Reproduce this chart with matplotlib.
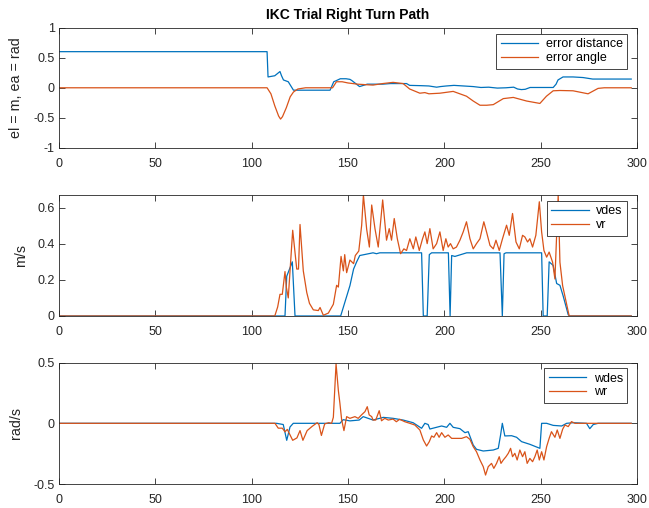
import numpy as np
import matplotlib.pyplot as plt

plt.rcParams['font.family'] = ['Liberation Sans', 'DejaVu Sans']

# error distance / error angle
ed_t = [0, 108, 108.5, 112, 114.7, 115.5, 116.5, 119, 121.7, 140.7, 142.6, 144, 146, 149, 151, 152, 154, 156,
        160, 163, 168, 172, 176, 180.4, 182, 188, 192, 196, 198, 201, 205, 210, 215, 219, 223, 227.5, 232, 236,
        238, 240, 242, 244.5, 250, 256.5, 258, 259, 261.6, 266.8, 272, 277, 297]
ed_v = [0.6, 0.6, 0.18, 0.2, 0.27, 0.2, 0.13, 0.1, -0.04, -0.04, 0.10, 0.12, 0.15, 0.15, 0.14, 0.12, 0.07, 0.02,
        0.06, 0.06, 0.06, 0.07, 0.07, 0.07, 0.04, 0.035, 0.03, 0.01, 0.02, 0.03, 0.04, 0.03, 0.02, 0.005, 0.01,
        -0.005, 0.0, 0.01, -0.02, -0.03, -0.025, 0.005, 0.005, 0.005, 0.06, 0.13, 0.18, 0.18, 0.17, 0.145, 0.145]
ea_t = [0, 108, 110, 112, 114, 115, 116, 118, 120, 121.7, 124, 128, 142, 144, 147, 150, 155, 160, 163, 168,
        173.4, 178.6, 182, 187.3, 189.9, 192, 197.7, 204.6, 211.5, 215, 218.5, 222, 225.4, 230.6, 235.8, 242.7,
        249.6, 253, 256.5, 260, 266.8, 274.6, 279.8, 283, 297]
ea_v = [0, 0, -0.1, -0.3, -0.47, -0.52, -0.48, -0.33, -0.15, -0.07, -0.02, 0, 0, 0.10, 0.1, 0.08, 0.06, 0.05,
        0.045, 0.07, 0.09, 0.07, -0.02, -0.09, -0.08, -0.1, -0.09, -0.06, -0.14, -0.22, -0.29, -0.29, -0.28,
        -0.18, -0.16, -0.22, -0.26, -0.14, -0.05, -0.045, -0.05, -0.10, -0.01, 0, 0]

# linear velocity
vdes_t = [0, 117.3, 118.2, 121.1, 122.5, 146.2, 151, 152.9, 154.5, 156.1, 163, 164.8, 166.5, 188.2, 189.1,
          191.1, 192.2, 193.4, 202.1, 203, 203.8, 205.5, 211.6, 228.9, 230.1, 231, 232, 250.5, 251.3, 253.4,
          254.4, 256.5, 258.3, 260, 261.7, 264.3, 265, 297]
vdes_v = [0, 0, 0.22, 0.30, 0, 0, 0.168, 0.26, 0.30, 0.335, 0.35, 0.345, 0.35, 0.35, 0, 0, 0.34, 0.35, 0.35,
          0, 0.335, 0.33, 0.35, 0.35, 0, 0.345, 0.35, 0.35, 0, 0, 0.30, 0.28, 0.18, 0.17, 0.11, 0.007, 0, 0]
vr_t = [0, 112, 113.5, 114.7, 115.9, 117.3, 118, 119, 121.3, 123.4, 124.3, 125.1, 126.8, 128.6, 130, 132,
        134.6, 135.5, 137.2, 139.8, 142.4, 144.1, 145, 146.4, 147.6, 148.3, 149.3, 151, 152.9, 153.8, 155.6,
        157.1, 158, 159.7, 161.1, 162.3, 164, 165.7, 168, 170, 171.4, 172.6, 174, 175.6, 177.3, 179, 180.4,
        182.1, 183.9, 185.2, 187, 188.7, 189.9, 191.1, 192.5, 194.2, 196, 197.7, 199.4, 200.8, 202, 203.2,
        204.6, 206.3, 208.1, 209.8, 211.5, 213.3, 215, 216.7, 218.5, 220.5, 221.9, 223.7, 225.4, 226.8, 228.5,
        230.2, 232.3, 233.7, 235.4, 237.2, 238.9, 240.6, 241.8, 243.2, 244.4, 245.8, 247.5, 249.3, 250.5,
        251.7, 253.1, 254.4, 256.2, 257.4, 259.1, 260, 261.4, 263.1, 264.8, 297]
vr_v = [0, 0, 0.05, 0.12, 0.12, 0.246, 0.16, 0.10, 0.475, 0.26, 0.26, 0.507, 0.25, 0.13, 0.07, 0.034,
        0.03, 0.047, 0.004, 0.016, 0.065, 0.17, 0.16, 0.33, 0.25, 0.34, 0.24, 0.31, 0.29, 0.335, 0.36,
        0.503, 0.67, 0.48, 0.382, 0.615, 0.484, 0.382, 0.643, 0.42, 0.484, 0.42, 0.54, 0.428, 0.345, 0.372,
        0.363, 0.428, 0.372, 0.438, 0.363, 0.428, 0.466, 0.401, 0.484, 0.372, 0.401, 0.466, 0.363, 0.428,
        0.382, 0.401, 0.372, 0.382, 0.42, 0.466, 0.522, 0.428, 0.372, 0.401, 0.428, 0.522, 0.466, 0.391,
        0.372, 0.42, 0.363, 0.428, 0.503, 0.447, 0.568, 0.41, 0.372, 0.447, 0.438, 0.41, 0.428, 0.382,
        0.447, 0.633, 0.466, 0.363, 0.326, 0.354, 0.298, 0.205, 0.67, 0.298, 0.168, 0.084, 0.0, 0]

# angular velocity
wdes_t = [0, 113, 116.4, 118.2, 119.9, 121.6, 145.8, 147.5, 151, 155.8, 157.9, 163, 168.3, 173.4, 178.6,
          183.8, 188.2, 189.9, 191.6, 192.5, 195.9, 198.6, 201.2, 202.9, 204.6, 208.1, 210.7, 212.4, 215,
          216.7, 220.2, 225.4, 228, 229.2, 230.1, 231.4, 234.9, 237.5, 240.1, 244.4, 249.6, 250.5, 253.1,
          256.5, 260.9, 263.5, 266.9, 273.8, 275.5, 277.3, 279.8, 297]
wdes_v = [0, 0, -0.01, -0.14, -0.03, 0, 0, 0.03, 0.02, 0.027, 0.055, 0.027, 0.049, 0.041, 0.027, 0.005,
          -0.041, 0, -0.01, -0.047, -0.033, -0.022, -0.033, 0, -0.033, -0.044, -0.077, -0.069, -0.179,
          -0.214, -0.228, -0.22, -0.206, -0.096, 0, -0.104, -0.102, -0.115, -0.151, -0.173, -0.206, 0, 0,
          -0.017, -0.022, 0, 0.005, 0, -0.044, -0.01, 0, 0]
wr_t = [0, 112.1, 113.8, 115.9, 117.3, 118.5, 121.3, 123.5, 125.1, 126.6, 128.8, 131.4, 134, 134.9, 136.2,
        137.9, 140, 141.5, 142.4, 143.8, 145, 145.8, 146.7, 147.9, 149.3, 151, 153.6, 155.3, 157, 158.8, 160,
        161, 162.3, 163, 164.4, 166.2, 167.4, 169.1, 170.9, 173.4, 175.1, 176.8, 179.5, 182.1, 184.7, 187.3,
        189.1, 190.8, 192.2, 193.4, 194.6, 196, 197.3, 198.6, 200.3, 202, 203.8, 206.4, 209, 211.5, 213.3,
        215, 216.7, 218.5, 220.2, 221.4, 222.8, 224.5, 225.7, 227.1, 228.5, 229.4, 230.6, 232, 233.2, 234.4,
        235.4, 236.6, 237.8, 239.2, 240.6, 241.8, 243, 244.4, 245.8, 247, 248.2, 249.3, 250.5, 251.7, 253.1,
        254.4, 255.6, 257.4, 258.6, 260, 261.4, 262.6, 264.3, 266, 267.8, 297]
wr_v = [0, 0, -0.04, -0.04, -0.07, -0.05, -0.14, -0.12, -0.06, -0.14, -0.06, -0.025, 0.005, -0.01, -0.10,
        -0.005, 0.005, 0, 0.05, 0.49, 0.27, 0.165, 0.03, -0.06, 0.055, 0.041, 0.055, 0.041, 0.069, 0.096,
        0.137, 0.069, 0.055, 0.027, 0.027, 0.104, 0.021, 0.041, 0.027, 0.035, 0.013, 0.033, 0.013, 0, -0.014,
        -0.055, -0.137, -0.187, -0.151, -0.104, -0.115, -0.077, -0.115, -0.077, -0.115, -0.096, -0.124,
        -0.124, -0.124, -0.11, -0.132, -0.192, -0.234, -0.302, -0.357, -0.426, -0.357, -0.33, -0.371, -0.33,
        -0.275, -0.33, -0.302, -0.275, -0.247, -0.206, -0.275, -0.247, -0.302, -0.22, -0.275, -0.234, -0.33,
        -0.289, -0.316, -0.275, -0.22, -0.302, -0.234, -0.302, -0.192, -0.124, -0.069, -0.115, -0.055,
        -0.124, -0.049, -0.014, -0.027, 0.014, 0, 0]

blue = '#0072BD'
orange = '#D95319'
axcol = '#262626'

fig = plt.figure(figsize=(6.49, 5.08), dpi=100)
boxes = [[0.0909, 0.7087, 0.8906, 0.237],
         [0.0909, 0.378, 0.8906, 0.238],
         [0.0909, 0.0472, 0.8906, 0.239]]
axs = [fig.add_axes(b) for b in boxes]

def style(ax):
    ax.set_xlim(0, 300)
    ax.set_xticks(np.arange(0, 301, 50))
    ax.tick_params(direction='in', length=4.3, width=0.6, top=True, right=True,
                   labelsize=9, colors=axcol)
    ax.tick_params(axis='x', pad=7.5)
    ax.tick_params(axis='y', pad=3)
    for s in ax.spines.values():
        s.set_color(axcol)
        s.set_linewidth(0.6)

def leg(ax, y):
    l = ax.legend(loc='upper right', bbox_to_anchor=(0.983, y), fontsize=9, frameon=True,
                  fancybox=False, framealpha=1, edgecolor=axcol, handlelength=3.0,
                  borderpad=0.35, labelspacing=0.15, handletextpad=0.6, borderaxespad=0)
    l.get_frame().set_linewidth(0.6)

ax = axs[0]
ax.plot(ed_t, ed_v, color=blue, lw=0.9, label='error distance')
ax.plot(ea_t, ea_v, color=orange, lw=0.9, label='error angle')
ax.set_ylim(-1, 1)
ax.set_yticks([-1, -0.5, 0, 0.5, 1])
ax.set_yticklabels(['-1', '-0.5', '0', '0.5', '1'])
ax.set_ylabel('el = m, ea = rad', fontsize=10.3, color=axcol)
ax.yaxis.set_label_coords(-0.062, 0.5)
ax.set_title('IKC Trial Right Turn Path', fontsize=10, fontweight='bold', pad=6)
style(ax)
leg(ax, 0.946)

ax = axs[1]
ax.plot(vdes_t, vdes_v, color=blue, lw=0.9, label='vdes')
ax.plot(vr_t, vr_v, color=orange, lw=0.9, label='vr')
ax.set_ylim(0, 0.67)
ax.set_yticks([0, 0.2, 0.4, 0.6])
ax.set_yticklabels(['0', '0.2', '0.4', '0.6'])
ax.set_ylabel('m/s', fontsize=10.3, color=axcol)
ax.yaxis.set_label_coords(-0.054, 0.5)
style(ax)
leg(ax, 0.95)

ax = axs[2]
ax.plot(wdes_t, wdes_v, color=blue, lw=0.9, label='wdes')
ax.plot(wr_t, wr_v, color=orange, lw=0.9, label='wr')
ax.set_ylim(-0.5, 0.5)
ax.set_yticks([-0.5, 0, 0.5])
ax.set_yticklabels(['-0.5', '0', '0.5'])
ax.set_ylabel('rad/s', fontsize=10.3, color=axcol)
ax.yaxis.set_label_coords(-0.062, 0.5)
style(ax)
leg(ax, 0.954)

fig.savefig('out.png', dpi=100, facecolor='white')
